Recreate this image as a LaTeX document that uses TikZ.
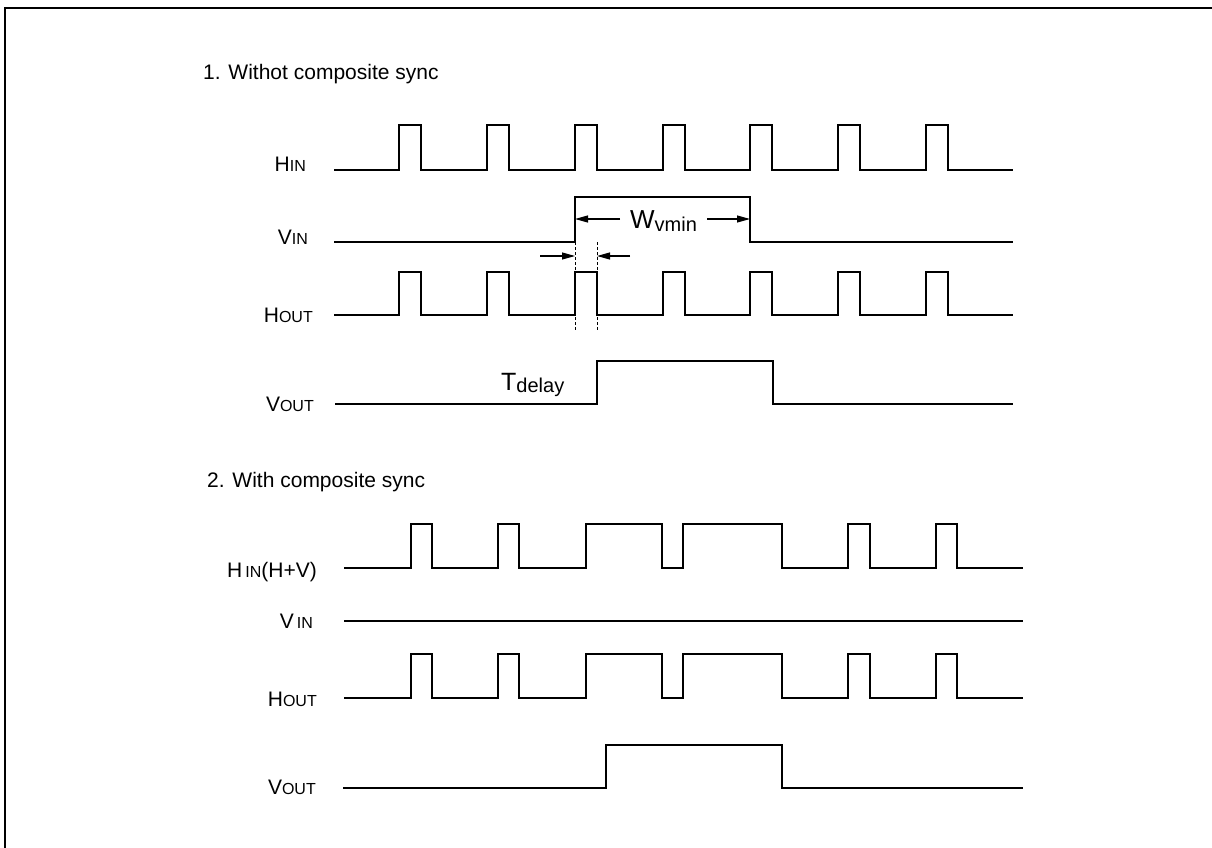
\documentclass[tikz,border=0pt]{standalone}
\usepackage{fontspec}
\setmainfont{Liberation Sans}
\usetikzlibrary{arrows.meta}
\newcommand{\siglbl}[2]{\fontsize{21}{25}\selectfont #1{\fontsize{16}{16}\selectfont #2}}
\begin{document}
\begin{tikzpicture}[x=1pt,y=-1pt,
    wave/.style={line width=2pt,line join=miter},
    lbl/.style={anchor=base east,inner sep=0pt},
    title/.style={anchor=base west,inner sep=0pt,font=\fontsize{21}{25}\selectfont},
    dim/.style={line width=1.1pt,-{Triangle[length=13pt,width=7pt]}},
    guide/.style={line width=0.8pt,dash pattern=on 3pt off 2pt}]
    \useasboundingbox (0,0) rectangle (1212,848);
    \draw[line width=2.5pt] (1212,8) -- (5,8) -- (5,848);
    \node[title] (t1) at (203,80) {1. Withot composite sync};
    \node[lbl] (hin) at (306,171) {\siglbl{H}{IN}};
    \node[lbl] (vin) at (308,244) {\siglbl{V}{IN}};
    \node[lbl] (hout) at (313,322) {\siglbl{H}{OUT}};
    \node[lbl] (vout) at (314,411) {\siglbl{V}{OUT}};
    \draw[wave] (334,170) -| (399,125) -| (421,170) -| (487,125) -| (509,170) -| (575,125) -| (597,170) -| (663,125) -| (685,170) -| (750,125) -| (772,170) -| (838,125) -| (860,170) -| (926,125) -| (948,170) -- (1013,170);
    \draw[wave] (334,242) -| (575,197) -| (750,242) -- (1013,242);
    \draw[wave] (334,315) -| (399,272) -| (421,315) -| (487,272) -| (509,315) -| (575,272) -| (597,315) -| (663,272) -| (685,315) -| (750,272) -| (772,315) -| (838,272) -| (860,315) -| (926,272) -| (948,315) -- (1013,315);
    \draw[wave] (335,404) -| (597,361) -| (773,404) -- (1013,404);
    \node[anchor=base west,inner sep=0pt] (wv) at (630,228) {{\fontsize{26}{26}\selectfont W}\raisebox{-3pt}{\fontsize{20}{20}\selectfont vmin}};
    \coordinate (wl) at (575,219);
    \coordinate (wr) at (750,219);
    \draw[dim] (620,219) -- (wl);
    \draw[dim] (707,219) -- (wr);
    \coordinate (dl) at (575,256);
    \coordinate (dr) at (597,256);
    \draw[dim] (540,256) -- (dl);
    \draw[dim] (630,256) -- (dr);
    \draw[guide] (575,242) -- (575,330);
    \draw[guide] (597,242) -- (597,330);
    \node[anchor=base west,inner sep=0pt] (td) at (501,390) {{\fontsize{25}{25}\selectfont T}\raisebox{-2pt}{\fontsize{20}{20}\selectfont delay}};
    \node[title] (t2) at (207,487) {2. With composite sync};
    \node[lbl] (hin2) at (317,577) {\fontsize{21}{25}\selectfont H\hspace{3pt}{\fontsize{16}{16}\selectfont IN}(H+V)};
    \node[lbl] (vin2) at (313,628) {\siglbl{V\hspace{3pt}}{IN}};
    \node[lbl] (hout2) at (317,706) {\siglbl{H}{OUT}};
    \node[lbl] (vout2) at (316,794) {\siglbl{V}{OUT}};
    \draw[wave] (344,568) -| (411,524) -| (432,568) -| (498,524) -| (519,568) -| (586,524) -| (662,568) -| (683,524) -| (782,568) -| (848,524) -| (870,568) -| (936,524) -| (957,568) -- (1023,568);
    \draw[wave] (344,621) -- (1023,621);
    \draw[wave] (344,698) -| (411,654) -| (432,698) -| (498,654) -| (519,698) -| (586,654) -| (662,698) -| (683,654) -| (782,698) -| (848,654) -| (870,698) -| (936,654) -| (957,698) -- (1023,698);
    \draw[wave] (343,788) -| (606,745) -| (782,788) -- (1023,788);
\end{tikzpicture}
\end{document}
